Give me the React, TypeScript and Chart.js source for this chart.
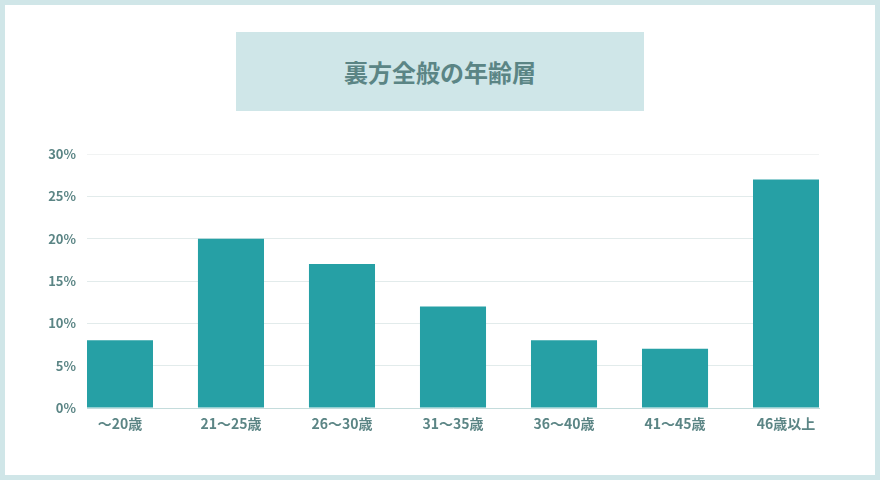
import { useEffect, useRef } from "react";
import { Chart, registerables } from "chart.js";

Chart.register(...registerables);

const categories = ["～20歳", "21～25歳", "26～30歳", "31～35歳", "36～40歳", "41～45歳", "46歳以上"];
const shares = [8, 20, 17, 12, 8, 7, 27];
const yTicks = [0, 5, 10, 15, 20, 25, 30];

const FONT = '"Noto Sans CJK JP", "Noto Sans", sans-serif';
const TEXT = "#5b8585";
const BAR = "#26a0a5";

export default function App() {
    const chartRef = useRef<HTMLCanvasElement>(null);
    const chartInstanceRef = useRef<Chart | null>(null);

    useEffect(() => {
        document.body.style.margin = "0";
        const ctx = chartRef.current?.getContext("2d");
        if (ctx && !chartInstanceRef.current) {
            chartInstanceRef.current = new Chart(ctx, {
                type: "bar",
                data: {
                    datasets: [
                        {
                            label: "年齢層",
                            data: shares.map((v, i) => ({ x: i, y: v })),
                            backgroundColor: BAR,
                            borderWidth: 0,
                            barPercentage: 0.595,
                            categoryPercentage: 1,
                        },
                    ],
                },
                options: {
                    animation: false,
                    responsive: false,
                    layout: { padding: { left: 0, right: 61, top: 154, bottom: 0 } },
                    scales: {
                        x: {
                            type: "linear",
                            offset: false,
                            min: -0.297,
                            max: categories.length - 1 + 0.297,
                            afterBuildTicks: (scale) => {
                                scale.ticks = categories.map((_, i) => ({ value: i }));
                            },
                            afterFit: (scale) => {
                                scale.height = 72;
                            },
                            grid: { display: false, drawTicks: false, offset: false },
                            border: { display: true, color: "#c4dcdc", width: 1 },
                            ticks: {
                                padding: 7,
                                color: TEXT,
                                font: { family: FONT, size: 14, weight: "bold" },
                                callback: (value) => categories[Number(value)] ?? "",
                                maxRotation: 0,
                                autoSkip: false,
                            },
                        },
                        y: {
                            min: 0,
                            max: 30,
                            afterBuildTicks: (scale) => {
                                scale.ticks = yTicks.map((v) => ({ value: v }));
                            },
                            afterFit: (scale) => {
                                scale.width = 87;
                            },
                            grid: {
                                drawTicks: false,
                                color: (c) => (c.tick && c.tick.value === 30 ? "#f1f3f3" : "#e2ebeb"),
                                lineWidth: 1,
                            },
                            border: { display: false },
                            ticks: {
                                padding: 11,
                                color: TEXT,
                                font: { family: FONT, size: 13, weight: "bold" },
                                callback: (value) => `${value}%`,
                            },
                        },
                    },
                    plugins: {
                        legend: { display: false },
                        tooltip: { enabled: false },
                    },
                },
            });
        }
        return () => {
            if (chartInstanceRef.current) {
                chartInstanceRef.current.destroy();
                chartInstanceRef.current = null;
            }
        };
    }, []);

    return (
        <div
            style={{
                position: "relative",
                width: 880,
                height: 480,
                boxSizing: "border-box",
                border: "5px solid #d0e6e8",
                background: "#fff",
                overflow: "hidden",
            }}
        >
            <div
                style={{
                    position: "absolute",
                    left: 231,
                    top: 27,
                    width: 408,
                    height: 79,
                    background: "#cfe6e8",
                    display: "flex",
                    alignItems: "center",
                    justifyContent: "center",
                    color: TEXT,
                    fontFamily: FONT,
                    fontWeight: "bold",
                    fontSize: 24,
                }}
            >
                裏方全般の年齢層
            </div>
            <canvas
                ref={chartRef}
                width={880}
                height={480}
                style={{ position: "absolute", left: -5, top: -5, width: 880, height: 480 }}
            />
        </div>
    );
}
